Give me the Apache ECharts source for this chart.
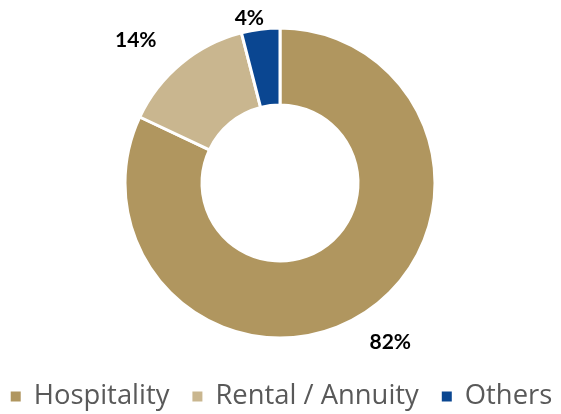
<!DOCTYPE html>
<html>
<head>
<meta charset="utf-8">
<script src="https://cdn.jsdelivr.net/npm/echarts@6/dist/echarts.min.js"></script>
<style>html,body{margin:0;padding:0;background:#fff}#c{width:561px;height:414px}</style>
</head>
<body>
<div id="c"></div>
<script>
const categories = ['Hospitality', 'Rental / Annuity', 'Others'];
const values = [82, 14, 4];
const colors = ['#B0965F', '#C9B68F', '#0A4691'];
const labelShift = [[-9, 18], [-8, -14], [14, 1]];

const chart = echarts.init(document.getElementById('c'));
chart.setOption({
  animation: false,
  color: colors,
  legend: {
    top: 378,
    left: 'center',
    icon: 'rect',
    itemWidth: 12,
    itemHeight: 12,
    itemGap: 21,
    textStyle: { fontFamily: 'Open Sans', fontSize: 27.4, color: '#595959', padding: [0, 0, 0, 7] },
    data: categories
  },
  series: [{
    type: 'pie',
    center: [280, 183],
    radius: [78, 155],
    startAngle: 90,
    clockwise: true,
    itemStyle: { borderColor: '#fff', borderWidth: 3 },
    label: {
      show: true,
      position: 'outside',
      formatter: '{c}%',
      fontFamily: 'Lato',
      fontWeight: 'bold',
      fontSize: 21,
      color: '#000'
    },
    labelLine: { show: false, length: 12, length2: 4 },
    labelLayout: function (p) {
      return { dx: labelShift[p.dataIndex][0], dy: labelShift[p.dataIndex][1] };
    },
    data: categories.map((n, i) => ({ name: n, value: values[i] }))
  }]
});
</script>
</body>
</html>
